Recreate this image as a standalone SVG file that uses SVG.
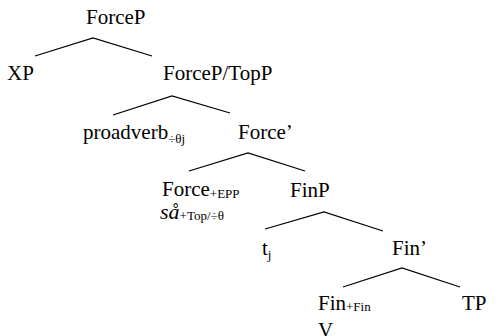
<svg xmlns="http://www.w3.org/2000/svg" width="500" height="336" viewBox="0 0 500 336" font-family="'Liberation Serif', 'DejaVu Serif', 'Times New Roman', serif">
  <style>
    text { fill: #000; }
    .lbl { font-size: 21px; }
    .sub { font-size: 13px; }
    .it { font-style: italic; font-size: 22px; }
    .edge { stroke: #000; stroke-width: 1.3; fill: none; }
  </style>
  <rect width="500" height="336" fill="#fff"/>

  <!-- branches -->
  <g id="connectors">
    <polyline class="edge" points="35,56 93,38 152,56"/>
    <polyline class="edge" points="113,115 172,96 230,113"/>
    <polyline class="edge" points="189,171 248,153 305,171"/>
    <polyline class="edge" points="265,229 324,212 383,231"/>
    <polyline class="edge" points="343,287 402,268 460,287"/>
  </g>

  <g id="n-forcep"><text class="lbl" x="86" y="24">ForceP</text></g>
  <g id="n-xp"><text class="lbl" x="7" y="80">XP</text></g>
  <g id="n-forcep-topp"><text class="lbl" x="163" y="80">ForceP/TopP</text></g>
  <g id="n-proadverb"><text class="lbl" x="83" y="139">proadverb<tspan class="sub" dy="4">÷θj</tspan></text></g>
  <g id="n-force-bar"><text class="lbl" x="238" y="139">Force’</text></g>
  <g id="n-force-head">
    <text class="lbl" x="162" y="196">Force<tspan class="sub" dy="2">+EPP</tspan></text>
    <text x="160" y="219"><tspan class="it">så</tspan><tspan class="sub" dy="1">+Top/÷θ</tspan></text>
  </g>
  <g id="n-finp"><text class="lbl" x="290" y="197">FinP</text></g>
  <g id="n-trace"><text class="lbl" x="262" y="255">t<tspan class="sub" dy="4">j</tspan></text></g>
  <g id="n-fin-bar"><text class="lbl" x="392" y="255">Fin’</text></g>
  <g id="n-fin-head">
    <text class="lbl" x="318" y="310">Fin<tspan class="sub" dy="1">+Fin</tspan></text>
    <text class="lbl" x="318" y="337">V</text>
  </g>
  <g id="n-tp"><text class="lbl" x="462" y="310">TP</text></g>
</svg>
